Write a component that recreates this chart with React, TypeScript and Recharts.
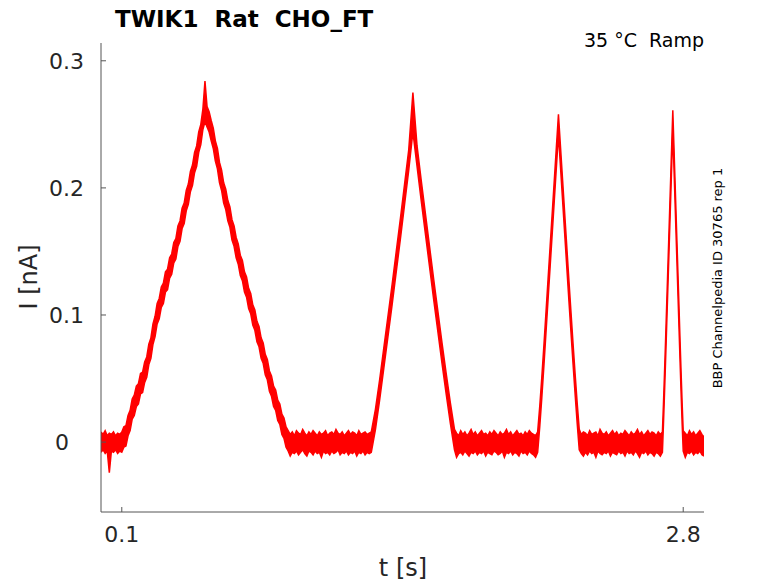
import { AreaChart, Area, XAxis, YAxis } from "recharts";

// The recorded current is very noisy, so the trace is drawn as its noise band:
// baselines keep a typed upper and lower edge, ramps keep the mid value.

// baseline before the first ramp, t = 0.00 .. 0.09 (step 0.01)
const base0Hi = [0.008, 0.006, 0.009, 0.005, 0.007, 0.006, 0.008, 0.005, 0.007, 0.006];
const base0Lo = [-0.008, -0.006, -0.009, -0.007, -0.024, -0.007, -0.008, -0.006, -0.009, -0.007];
// first ramp up t = 0.10 .. 0.50, down t = 0.51 .. 0.90 (step 0.01)
const rise1 = [
  0.0, 0.004, 0.005, 0.013, 0.017, 0.026, 0.029, 0.036, 0.038, 0.046, 0.047, 0.055, 0.059, 0.069,
  0.074, 0.085, 0.091, 0.101, 0.105, 0.114, 0.117, 0.126, 0.128, 0.137, 0.14, 0.149, 0.152, 0.162,
  0.166, 0.176, 0.18, 0.19, 0.195, 0.205, 0.21, 0.22, 0.225, 0.236, 0.242, 0.254, 0.26,
];
const fall1 = [
  0.256, 0.252, 0.245, 0.239, 0.229, 0.223, 0.212, 0.206, 0.196, 0.191, 0.182, 0.177, 0.167, 0.162,
  0.153, 0.148, 0.139, 0.135, 0.126, 0.122, 0.113, 0.109, 0.1, 0.096, 0.087, 0.083, 0.074, 0.07,
  0.061, 0.057, 0.048, 0.044, 0.036, 0.033, 0.025, 0.022, 0.014, 0.011, 0.004, 0.001,
];
// t = 0.91 .. 1.29 (step 0.01)
const base1Hi = [
  0.006, 0.008, 0.005, 0.009, 0.007, 0.006, 0.01, 0.007, 0.005, 0.008, 0.006, 0.009, 0.007, 0.005,
  0.008, 0.006, 0.007, 0.009, 0.005, 0.007, 0.008, 0.006, 0.01, 0.007, 0.006, 0.008, 0.005, 0.007,
  0.009, 0.006, 0.008, 0.007, 0.005, 0.009, 0.006, 0.007, 0.008, 0.006, 0.007,
];
const base1Lo = [
  -0.011, -0.008, -0.009, -0.007, -0.01, -0.008, -0.006, -0.009, -0.011, -0.007, -0.008, -0.01,
  -0.007, -0.009, -0.008, -0.012, -0.007, -0.009, -0.008, -0.01, -0.007, -0.009, -0.008, -0.006,
  -0.01, -0.008, -0.009, -0.007, -0.01, -0.008, -0.009, -0.007, -0.011, -0.008, -0.009, -0.007,
  -0.01, -0.008, -0.009,
];
// second ramp up t = 1.30 .. 1.50, down t = 1.52 .. 1.70 (step 0.02)
const rise2 = [0.0, 0.018, 0.041, 0.066, 0.091, 0.116, 0.142, 0.168, 0.195, 0.222, 0.252];
const fall2 = [0.225, 0.198, 0.172, 0.146, 0.12, 0.095, 0.07, 0.046, 0.023, 0.002];
// t = 1.71 .. 2.09 (step 0.01)
const base2Hi = [
  0.007, 0.005, 0.009, 0.006, 0.008, 0.005, 0.007, 0.01, 0.006, 0.008, 0.005, 0.007, 0.009, 0.006,
  0.007, 0.005, 0.008, 0.006, 0.009, 0.007, 0.005, 0.008, 0.006, 0.007, 0.01, 0.006, 0.008, 0.005,
  0.007, 0.009, 0.006, 0.007, 0.005, 0.008, 0.006, 0.009, 0.007, 0.006, 0.005,
];
const base2Lo = [
  -0.012, -0.009, -0.008, -0.01, -0.007, -0.009, -0.011, -0.008, -0.009, -0.007, -0.01, -0.008,
  -0.009, -0.007, -0.011, -0.008, -0.009, -0.01, -0.007, -0.008, -0.01, -0.009, -0.007, -0.012,
  -0.008, -0.009, -0.007, -0.01, -0.008, -0.009, -0.011, -0.007, -0.009, -0.008, -0.01, -0.007,
  -0.009, -0.01, -0.012,
];
// third ramp up t = 2.10 .. 2.20, down t = 2.21 .. 2.30 (step 0.01)
const rise3 = [0.0, 0.02, 0.043, 0.068, 0.094, 0.12, 0.146, 0.172, 0.198, 0.224, 0.25];
const fall3 = [0.224, 0.198, 0.172, 0.146, 0.12, 0.095, 0.07, 0.046, 0.023, 0.002];
// t = 2.31 .. 2.69 (step 0.01)
const base3Hi = [
  0.006, 0.008, 0.007, 0.005, 0.009, 0.006, 0.007, 0.008, 0.005, 0.01, 0.007, 0.006, 0.008, 0.005,
  0.007, 0.009, 0.006, 0.008, 0.005, 0.007, 0.006, 0.009, 0.007, 0.005, 0.008, 0.006, 0.007, 0.01,
  0.006, 0.008, 0.005, 0.007, 0.009, 0.006, 0.008, 0.007, 0.005, 0.008, 0.006,
];
const base3Lo = [
  -0.009, -0.011, -0.008, -0.01, -0.007, -0.009, -0.008, -0.012, -0.007, -0.009, -0.01, -0.008,
  -0.009, -0.007, -0.011, -0.008, -0.009, -0.01, -0.007, -0.009, -0.008, -0.011, -0.007, -0.009,
  -0.008, -0.01, -0.007, -0.009, -0.012, -0.008, -0.009, -0.007, -0.01, -0.008, -0.009, -0.011,
  -0.008, -0.009, -0.011,
];
// fourth ramp up t = 2.700 .. 2.750, down t = 2.755 .. 2.800 (step 0.005)
const rise4 = [0.0, 0.022, 0.046, 0.071, 0.097, 0.123, 0.149, 0.175, 0.201, 0.227, 0.253];
const fall4 = [0.227, 0.201, 0.175, 0.149, 0.123, 0.097, 0.071, 0.046, 0.022, 0.001];
// t = 2.81 .. 2.90 (step 0.01)
const base4Hi = [0.007, 0.005, 0.009, 0.006, 0.008, 0.005, 0.007, 0.009, 0.006, 0.004];
const base4Lo = [-0.012, -0.008, -0.009, -0.007, -0.01, -0.008, -0.009, -0.007, -0.01, -0.011];

// tips of the four current peaks and the noise half-width on the ramps (nA)
const peakTips = [0.284, 0.275, 0.258, 0.261];
const rampNoise = 0.008;

const xTicks = [0.1, 2.8];
const yTicks = [0, 0.1, 0.2, 0.3];

type Seg = { start: number; step: number; hi: number[]; lo: number[] };

const band = (start: number, step: number, hi: number[], lo: number[]): Seg => ({ start, step, hi, lo });
const ramp = (start: number, step: number, mid: number[], tip?: number): Seg => {
  const hi = mid.map((v) => v + rampNoise);
  if (tip !== undefined) hi[hi.length - 1] = tip;
  return { start, step, hi, lo: mid.map((v) => v - rampNoise) };
};

const segments: Seg[] = [
  band(0.0, 0.01, base0Hi, base0Lo),
  ramp(0.1, 0.01, rise1, peakTips[0]),
  ramp(0.51, 0.01, fall1),
  band(0.91, 0.01, base1Hi, base1Lo),
  ramp(1.3, 0.02, rise2, peakTips[1]),
  ramp(1.52, 0.02, fall2),
  band(1.71, 0.01, base2Hi, base2Lo),
  ramp(2.1, 0.01, rise3, peakTips[2]),
  ramp(2.21, 0.01, fall3),
  band(2.31, 0.01, base3Hi, base3Lo),
  ramp(2.7, 0.005, rise4, peakTips[3]),
  ramp(2.755, 0.005, fall4),
  band(2.81, 0.01, base4Hi, base4Lo),
];

const trace = segments.flatMap((s) =>
  s.hi.map((h, k) => ({ t: +(s.start + k * s.step).toFixed(4), i: [s.lo[k], h] }))
);

const W = 778;
const H = 583;
const AXIS = "#555555";
const TXT = "#262626";
const FONT = "DejaVu Sans, sans-serif";

const XTick = (props: any) => {
  const { x, y, payload } = props;
  return (
    <g>
      <line x1={x} x2={x} y1={y} y2={y - 5} stroke={AXIS} />
      <text x={x} y={y + 30} textAnchor="middle" fontSize={22} fill={TXT} fontFamily={FONT}>
        {payload.value}
      </text>
    </g>
  );
};

const YTick = (props: any) => {
  const { x, y, payload } = props;
  const v = payload.value;
  return (
    <g>
      <line x1={x} x2={x + 5} y1={y} y2={y} stroke={AXIS} />
      <text
        x={v === 0 ? x - 32 : x - 17}
        y={y}
        dy={8}
        textAnchor="end"
        fontSize={22}
        fill={TXT}
        fontFamily={FONT}
      >
        {v === 0 ? "0" : v.toFixed(1)}
      </text>
    </g>
  );
};

export default function App() {
  return (
    <div style={{ position: "absolute", left: 0, top: 0, width: W, height: H, background: "#fff" }}>
      <AreaChart width={W} height={H} data={trace} margin={{ top: 43, right: 74, bottom: 41, left: 41 }}>
        <XAxis
          type="number"
          dataKey="t"
          domain={[0, 2.9]}
          ticks={xTicks}
          allowDataOverflow
          height={30}
          axisLine={{ stroke: AXIS }}
          tickLine={false}
          tickSize={0}
          tickMargin={0}
          tick={XTick}
        />
        <YAxis
          type="number"
          domain={[-0.055, 0.314]}
          ticks={yTicks}
          allowDataOverflow
          width={60}
          axisLine={{ stroke: AXIS }}
          tickLine={false}
          tickSize={0}
          tickMargin={0}
          tick={YTick}
        />
        <Area
          dataKey="i"
          type="linear"
          stroke="#ff0000"
          strokeWidth={1.5}
          fill="#ff0000"
          fillOpacity={1}
          dot={false}
          activeDot={false}
          isAnimationActive={false}
        />
      </AreaChart>
      <svg
        width={W}
        height={H}
        style={{ position: "absolute", left: 0, top: 0, pointerEvents: "none" }}
        fontFamily={FONT}
      >
        <text x={115} y={27} fontSize={23} fontWeight="bold" fill="#000" style={{ whiteSpace: "pre" }}>
          TWIK1  Rat  CHO_FT
        </text>
        <text x={704} y={47} fontSize={19} textAnchor="end" fill="#000" style={{ whiteSpace: "pre" }}>
          35 °C  Ramp
        </text>
        <text x={37} y={277} fontSize={24} textAnchor="middle" fill={TXT} transform="rotate(-90 37 277)">
          I [nA]
        </text>
        <text x={403} y={576} fontSize={24} textAnchor="middle" fill={TXT}>
          t [s]
        </text>
        <text x={722} y={278} fontSize={13} textAnchor="middle" fill="#000" transform="rotate(-90 722 278)">
          BBP Channelpedia ID 30765 rep 1
        </text>
      </svg>
    </div>
  );
}
